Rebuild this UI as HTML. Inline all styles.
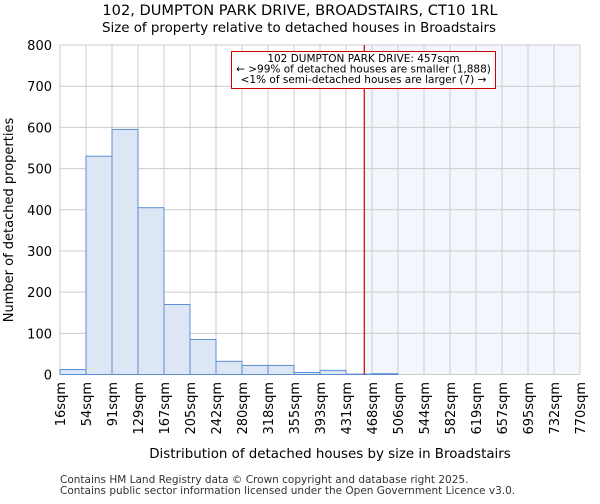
<!DOCTYPE html>
<html><head><meta charset="utf-8"><style>
body{margin:0;background:#fff;font-family:"DejaVu Sans","Liberation Sans",sans-serif}
text{font-family:"DejaVu Sans","Liberation Sans",sans-serif}
</style></head><body>
<svg id="chart" width="600" height="500" xmlns="http://www.w3.org/2000/svg">
<text x="300" y="15" text-anchor="middle" font-size="14.6">102, DUMPTON PARK DRIVE, BROADSTAIRS, CT10 1RL</text>
<text x="299" y="32" text-anchor="middle" font-size="13.4">Size of property relative to detached houses in Broadstairs</text>
<g id="grid"></g><g id="bars"></g><g id="axes"></g>
<text x="330" y="458" text-anchor="middle" font-size="13.4">Distribution of detached houses by size in Broadstairs</text>
<text transform="translate(13,220) rotate(-90)" text-anchor="middle" font-size="13">Number of detached properties</text>
<text x="60" y="483" font-size="10.5" fill="#333">Contains HM Land Registry data © Crown copyright and database right 2025.</text>
<text x="60" y="494" font-size="10.5" fill="#333">Contains public sector information licensed under the Open Government Licence v3.0.</text>
</svg>
<script>
const edgeLabels=["16sqm","54sqm","91sqm","129sqm","167sqm","205sqm","242sqm","280sqm","318sqm","355sqm","393sqm","431sqm","468sqm","506sqm","544sqm","582sqm","619sqm","657sqm","695sqm","732sqm","770sqm"];
const counts=[12,530,595,405,170,85,32,22,22,5,10,1,2,0,0,0,0,0,0,0];
const yTicks=[0,100,200,300,400,500,600,700,800];
const propertySize=457;
const edgeValues=[16,54,91,129,167,205,242,280,318,355,393,431,468,506,544,582,619,657,695,732,770];
const NS="http://www.w3.org/2000/svg";
const X0=60,X1=580,Y0=374.5,Y1=45;
const nb=counts.length,bw=(X1-X0)/nb;
const xs=i=>X0+i*bw;
const ys=v=>Y0-(v/800)*(Y0-Y1);
function mk(t,a,p){const e=document.createElementNS(NS,t);for(const k in a)e.setAttribute(k,a[k]);p.appendChild(e);return e;}
const grid=document.getElementById('grid'),bars=document.getElementById('bars'),axes=document.getElementById('axes');
let k=0;while(k<edgeValues.length-2&&edgeValues[k+1]<propertySize)k++;
const px=xs(k)+bw*(propertySize-edgeValues[k])/(edgeValues[k+1]-edgeValues[k]);
const sh=mk('rect',{x:px,y:Y1,width:X1-px,height:Y0-Y1,fill:'#f3f6fd'},grid);


for(let i=0;i<=nb;i++){const l=mk('line',{x1:xs(i),x2:xs(i),y1:Y1,y2:Y0,stroke:'#cccccc'},grid);

}
yTicks.forEach(v=>{const l=mk('line',{x1:X0,x2:X1,y1:ys(v),y2:ys(v),stroke:'#cccccc'},grid);


const t=mk('text',{x:X0-8,y:ys(v)+5,'text-anchor':'end','font-size':13},axes);t.textContent=v;

});
counts.forEach((c,i)=>{const r=mk('rect',{x:xs(i),y:ys(c),width:bw,height:Y0-ys(c),fill:'#dce6f4',stroke:'#5b8fd1','stroke-width':1},bars);

});
edgeLabels.forEach((s,i)=>{const t=mk('text',{transform:`translate(${xs(i)+5},382) rotate(-90)`,'text-anchor':'end','font-size':13},axes);t.textContent=s;

});
const rl=mk('line',{x1:px,x2:px,y1:Y1,y2:Y0,stroke:'#cc0000','stroke-width':1.2},bars);


const g=mk('g',{},bars);


mk('rect',{x:231.5,y:51.5,width:264,height:37,fill:'#fff',stroke:'#cc0000'},g);
const lines=["102 DUMPTON PARK DRIVE: 457sqm","← >99% of detached houses are smaller (1,888)","<1% of semi-detached houses are larger (7) →"];
lines.forEach((s,i)=>{const t=mk('text',{x:363.5,y:62+i*10.5,'text-anchor':'middle','font-size':10.5},g);t.textContent=s;

});
</script>
</body></html>
